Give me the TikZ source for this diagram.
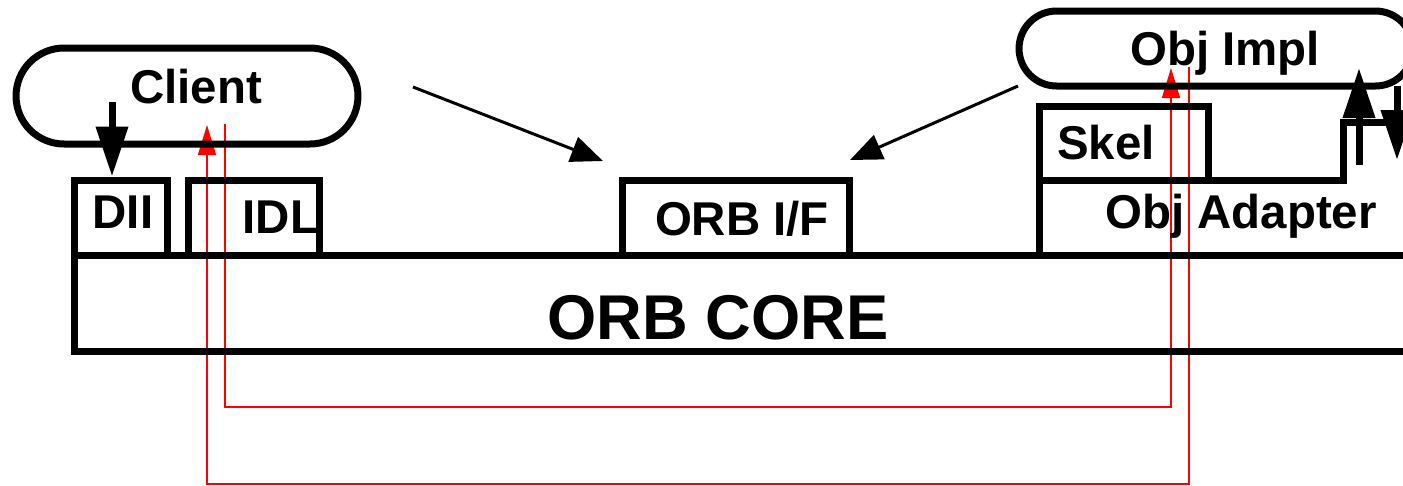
\documentclass[tikz,border=0pt]{standalone}
\usepackage{fontspec}
\setmainfont{Liberation Sans}
\usetikzlibrary{arrows.meta}
\begin{document}
\begin{tikzpicture}[x=0.02cm,y=-0.02cm,
  box/.style={draw,line width=0.14cm,inner sep=0pt,line join=miter},
  lbl/.style={anchor=base,inner sep=0pt,font=\fontsize{27}{31}\selectfont\bfseries},
  biglbl/.style={anchor=base,inner sep=0pt,font=\fontsize{36}{40}\selectfont\bfseries},
  bigarrow/.style={line width=0.14cm,-{Triangle[length=1cm,width=0.62cm]}},
  thinarrow/.style={line width=0.06cm,-{Triangle[length=0.64cm,width=0.52cm]}},
  redline/.style={red,line width=0.03cm},
  redarrow/.style={redline,-{Triangle[length=0.6cm,width=0.36cm]}}]
\useasboundingbox (0,0) rectangle (1403,485);
\clip (0,0) rectangle (1403,485);
% red request/reply paths (behind)
\coordinate (r1s) at (225,124);
\coordinate (r1e) at (1171,68);
\coordinate (r2s) at (1189,67);
\coordinate (r2e) at (207,125);
\coordinate (low1) at (0,407);
\coordinate (low2) at (0,484);
\draw[redarrow] (r1s) -- (r1s |- low1) -- (r1e |- low1) -- (r1e);
\draw[redarrow] (r2s) -- (r2s |- low2) -- (r2e |- low2) -- (r2e);
% boxes
\node[box,rounded corners=0.96cm,minimum width=6.84cm,minimum height=1.92cm] (client) at (187,96) {};
\node[box,minimum width=1.88cm,minimum height=1.5cm] (dii) at (121,217.5) {};
\node[box,minimum width=2.64cm,minimum height=1.5cm] (idl) at (254,217.5) {};
\node[box,minimum width=4.56cm,minimum height=1.5cm] (orbif) at (736,217.5) {};
\node[box,minimum width=27.52cm,minimum height=1.92cm] (core) at (762,303) {};
\node[box,minimum width=3.4cm,minimum height=1.48cm] (skel) at (1124,143) {};
\node[box,rounded corners=0.75cm,minimum width=7.88cm,minimum height=1.5cm] (objimpl) at (1216,48.5) {};
\draw[line width=0.14cm,line join=miter] (1039,255) -- (1039,180) -- (1343,180) -- (1343,122) -- (1420,122);
% labels
\node[lbl] (clientlbl) at (196,103) {Client};
\node[lbl] (diilbl) at (123,228) {DII};
\node[lbl] (idllbl) at (281,233) {IDL};
\node[lbl] (orbiflbl) at (742,235) {ORB I/F};
\node[biglbl] (corelbl) at (718,339) {ORB CORE};
\node[lbl] (objimpllbl) at (1225,65) {Obj Impl};
\node[lbl] (skellbl) at (1106,159) {Skel};
\node[lbl] (adapterlbl) at (1241,228) {Obj Adapter};
% black arrows
\coordinate (a1s) at (112,102);
\draw[bigarrow] (a1s) -- (dii.north -| a1s);
\coordinate (a2s) at (1359,165);
\coordinate (a2e) at (1359,68);
\draw[bigarrow] (a2s) -- (a2e);
\coordinate (a3s) at (1397,86);
\coordinate (a3e) at (1397,160);
\draw[bigarrow] (a3s) -- (a3e);
\coordinate (d1s) at (413,87);
\coordinate (d1e) at (603,161);
\draw[thinarrow] (d1s) -- (d1e);
\coordinate (d2s) at (1018,86);
\coordinate (d2e) at (850,160);
\draw[thinarrow] (d2s) -- (d2e);
\end{tikzpicture}
\end{document}
